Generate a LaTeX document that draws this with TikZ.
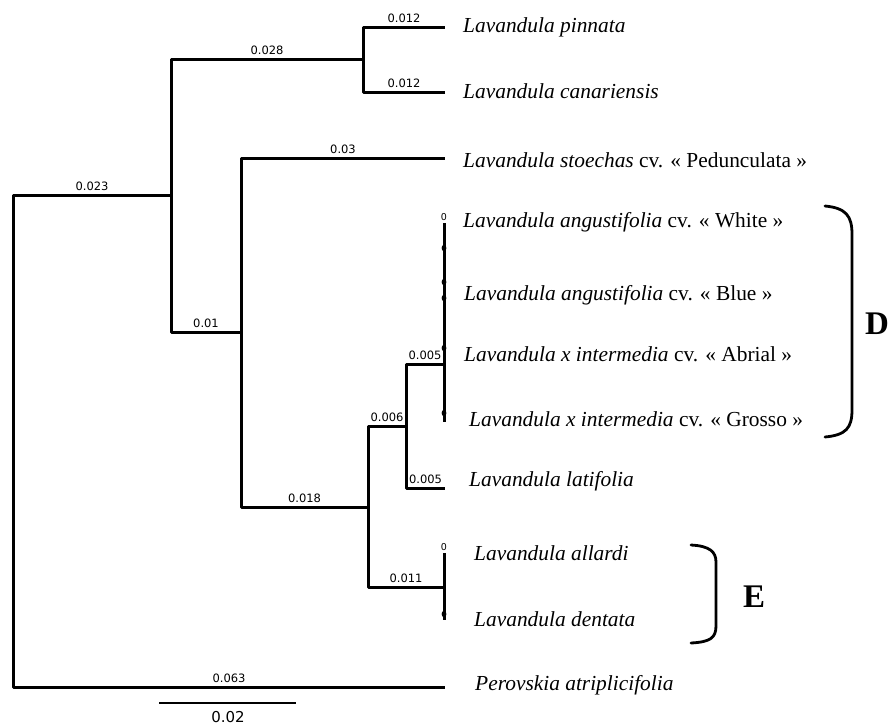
\documentclass[tikz,border=0pt]{standalone}
\usepackage{fontspec}
\setmainfont{Liberation Serif}
\newfontfamily\dejavu{DejaVu Sans}
\begin{document}
\begin{tikzpicture}[x=1pt,y=-1pt,
  br/.style={line width=3pt, line join=round},
  brace/.style={line width=2.8pt, line cap=round},
  blab/.style={font=\dejavu\fontsize{11.5}{12}\selectfont, inner sep=0pt, above=2.9pt},
  taxon/.style={font=\fontsize{21.4}{24}\selectfont, inner sep=0pt, anchor=base west},
  grp/.style={font=\bfseries\fontsize{33}{36}\selectfont, inner sep=0pt, anchor=base west},
  zl/.style={font=\dejavu\fontsize{9.5}{10}\selectfont, inner sep=0pt, anchor=south},
  sbl/.style={font=\dejavu\fontsize{15}{16}\selectfont, inner sep=0pt, anchor=base}
]
\useasboundingbox (0,0) rectangle (889,724);
% tree nodes
\coordinate (root) at (13,441.5);
\coordinate (n1) at (171,195.5);
\coordinate (n2) at (363,59.5);
\coordinate (pin) at (445,27);
\coordinate (can) at (445,92);
\coordinate (n3) at (241,332);
\coordinate (sto) at (445,158);
\coordinate (n4) at (368,507);
\coordinate (n5) at (406,426);
\coordinate (n6) at (444,364);
\coordinate (lat) at (445,488);
\coordinate (n7) at (444,587);
\coordinate (per) at (445,687);
\coordinate (wht) at (444,223);
\coordinate (gro) at (444,422);
\coordinate (all) at (444,553);
\coordinate (den) at (444,620);
% branches
\draw[br] (root) |- (n1) node[blab,pos=0.75]{0.023};
\draw[br] (root) |- (per) node[blab,pos=0.75]{0.063};
\draw[br] (n1) |- (n2) node[blab,pos=0.75]{0.028};
\draw[br] (n1) |- (n3) node[blab,pos=0.75]{0.01};
\draw[br] (n2) |- (pin) node[blab,pos=0.75]{0.012};
\draw[br] (n2) |- (can) node[blab,pos=0.75]{0.012};
\draw[br] (n3) |- (sto) node[blab,pos=0.75]{0.03};
\draw[br] (n3) |- (n4) node[blab,pos=0.75]{0.018};
\draw[br] (n4) |- (n5) node[blab,pos=0.75]{0.006};
\draw[br] (n4) |- (n7) node[blab,pos=0.75]{0.011};
\draw[br] (n5) |- (n6) node[blab,pos=0.75]{0.005};
\draw[br] (n5) |- (lat) node[blab,pos=0.75]{0.005};
\draw[br] (wht) -- (gro);
\draw[br] (all) -- (den);
% zero-length labels
\node[zl] (z1) at (444,221) {0};
\node[zl] (z2) at (444,551) {0};
\foreach \yy in {248,282,298,348,413,614} \fill (444,\yy) ellipse (2.4pt and 3.2pt);
% taxa
\node[taxon] (t1) at (463,32) {\textit{Lavandula pinnata}};
\node[taxon] (t2) at (463,98) {\textit{Lavandula canariensis}};
\node[taxon] (t3) at (463,167) {\textit{Lavandula stoechas} cv. « Pedunculata »};
\node[taxon] (t4) at (463,227) {\textit{Lavandula angustifolia} cv. « White »};
\node[taxon] (t5) at (464,300) {\textit{Lavandula angustifolia} cv. « Blue »};
\node[taxon] (t6) at (464,361) {\textit{Lavandula x intermedia} cv. « Abrial »};
\node[taxon] (t7) at (469,426) {\textit{Lavandula x intermedia} cv. « Grosso »};
\node[taxon] (t8) at (469,486) {\textit{Lavandula latifolia}};
\node[taxon] (t9) at (474,560) {\textit{Lavandula allardi}};
\node[taxon] (t10) at (474,626) {\textit{Lavandula dentata}};
\node[taxon] (t11) at (475,690) {\textit{Perovskia atriplicifolia}};
% group brackets
\draw[brace] (825,206) .. controls (846,208) and (852,216) .. (852,234) -- (852,410) .. controls (852,428) and (846,435) .. (825,437);
\draw[brace] (691,545) .. controls (710,546) and (716,552) .. (716,562) -- (716,626) .. controls (716,638) and (710,642) .. (691,643);
\node[grp] (gD) at (865,334) {D};
\node[grp] (gE) at (743,607) {E};
% scale bar
\coordinate (sb1) at (159,703);
\coordinate (sb2) at (296,703);
\draw[line width=1.2pt] (sb1) -- (sb2);
\node[sbl] (sbt) at (228,722) {0.02};
\end{tikzpicture}
\end{document}
